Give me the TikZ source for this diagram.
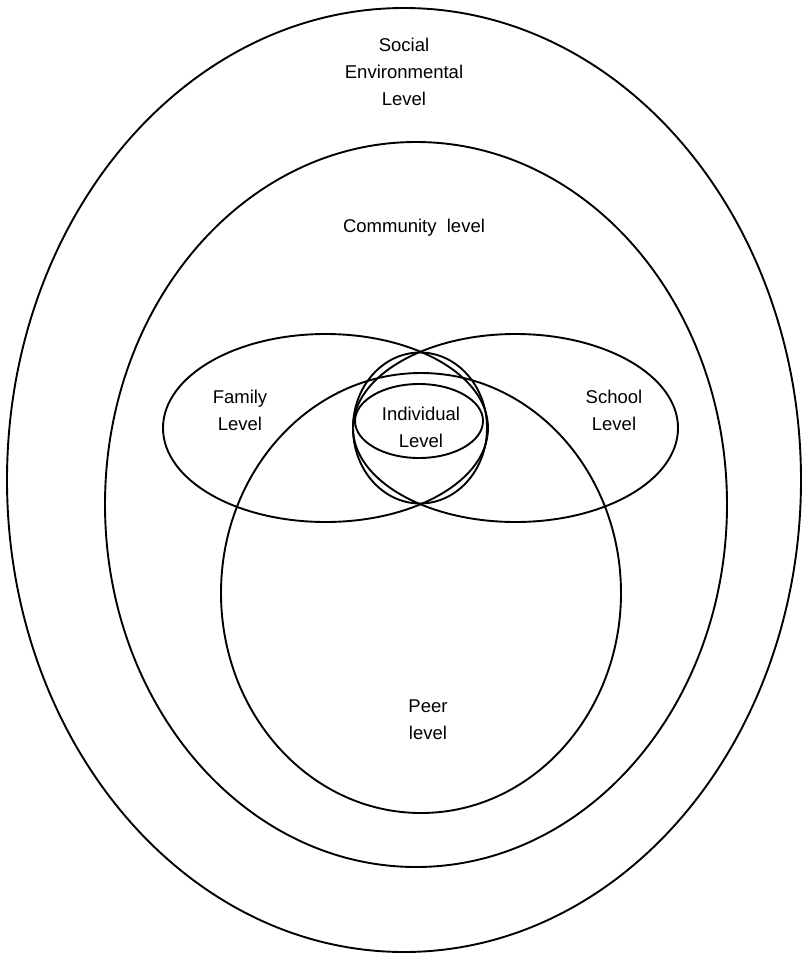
\documentclass[tikz,border=0pt]{standalone}
\usepackage{fontspec}
\setmainfont{Liberation Sans}
\usepackage{tikz}
\usetikzlibrary{shapes.geometric, positioning}

\tikzset{
  ring/.style={ellipse, draw, line width=1.9pt, inner sep=0pt, outer sep=0pt},
  lvl/.style={align=center, inner sep=0pt, font=\fontsize{18.5}{27}\selectfont},
}

\begin{document}
\begin{tikzpicture}[x=1pt, y=-1pt]
\useasboundingbox (0,0) rectangle (808,956);
%
% the levels, outside in
\node[ring, minimum width=794pt, minimum height=944pt] (social) at (404,480) {};
\node[ring, minimum width=622pt, minimum height=725pt] (community) at (416,504.5) {};
\node[ring, minimum width=400pt, minimum height=440pt] (peer) at (421,593) {};
\node[ring, minimum width=325pt, minimum height=188pt] (family) at (325.5,428) {};
\node[ring, minimum width=325pt, minimum height=188pt] (school) at (515.5,428) {};
\node[ring, minimum width=134pt, minimum height=151pt] (self) at (420,428) {};
\node[ring, minimum width=128pt, minimum height=74pt] (individual) at (419,421) {};
%
% labels
\node[lvl] (socialtxt) at (404,72) {Social\\Environmental\\Level};
\node[lvl] (communitytxt) at (414,228) {Community\ \ level};
\node[lvl] (familytxt) at (240,410) {Family\\Level};
\node[lvl] (schooltxt) at (614,410) {School\\Level};
\node[lvl] (individualtxt) at (421,427) {Individual\\Level};
\node[lvl] (peertxt) at (428,720) {Peer\\level};
%
\end{tikzpicture}
\end{document}
